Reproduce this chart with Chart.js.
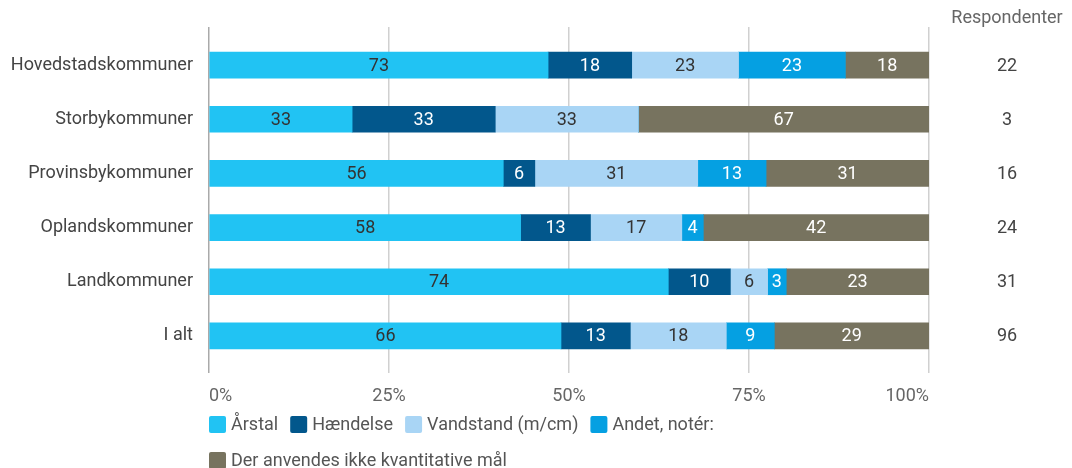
<!DOCTYPE html>
<html>
<head>
<meta charset="utf-8">
<script src="https://cdn.jsdelivr.net/npm/chart.js@4.4.1/dist/chart.umd.min.js"></script>
<style>
  html, body { margin: 0; padding: 0; background: #fff; }
  #wrap { width: 1072px; height: 468px; position: relative; }
</style>
</head>
<body>
<div id="wrap"><canvas id="chart"></canvas></div>
<script>
const categories = ['Hovedstadskommuner', 'Storbykommuner', 'Provinsbykommuner', 'Oplandskommuner', 'Landkommuner', 'I alt'];
const seriesNames = ['Årstal', 'Hændelse', 'Vandstand (m/cm)', 'Andet, notér:', 'Der anvendes ikke kvantitative mål'];
const aarstal = [73, 33, 56, 58, 74, 66];
const haendelse = [18, 33, 6, 13, 10, 13];
const vandstand = [23, 33, 31, 17, 6, 18];
const andet = [23, 0, 13, 4, 3, 9];
const ikkeKvant = [18, 67, 31, 42, 23, 29];
const respondenter = [22, 3, 16, 24, 31, 96];
const xTicks = [0, 25, 50, 75, 100];

const colors = ['#21c3f3', '#02578c', '#a9d5f5', '#05a0e2', '#77735f'];
const labelColors = ['#333', '#fff', '#333', '#fff', '#fff'];
const raw = [aarstal, haendelse, vandstand, andet, ikkeKvant];

// bars are stacked to 100% of each row's total, labels show the raw numbers
const totals = categories.map((c, i) => raw.reduce((s, arr) => s + arr[i], 0));

const datasets = raw.map((arr, k) => ({
  label: seriesNames[k],
  data: arr.map((v, i) => v / totals[i] * 100),
  rawValues: arr,
  backgroundColor: colors[k],
  borderWidth: 0,
  barThickness: 26
}));

const FONT = 'Roboto';
const FS = 18;

const gridColor = c => (c.tick && c.tick.value === 0) ? '#aaa' : '#d0d0d0';

const barLabels = {
  id: 'barLabels',
  afterDatasetsDraw(chart) {
    const ctx = chart.ctx;
    ctx.save();
    ctx.font = FS + 'px ' + FONT;
    ctx.textAlign = 'center';
    ctx.textBaseline = 'middle';
    chart.data.datasets.forEach((ds, k) => {
      const meta = chart.getDatasetMeta(k);
      meta.data.forEach((el, i) => {
        const v = ds.rawValues[i];
        if (!v) return;
        ctx.fillStyle = labelColors[k];
        ctx.fillText(String(v), (el.x + el.base) / 2, el.y + 1);
      });
    });
    ctx.restore();
  }
};

const sideColumn = {
  id: 'sideColumn',
  afterDraw(chart) {
    const ctx = chart.ctx;
    const yScale = chart.scales.y;
    const cx = 1007;
    ctx.save();
    ctx.font = FS + 'px ' + FONT;
    ctx.textAlign = 'center';
    ctx.textBaseline = 'middle';
    ctx.fillStyle = '#666';
    ctx.fillText('Respondenter', cx, 18);
    ctx.fillStyle = '#444';
    respondenter.forEach((n, i) => {
      ctx.fillText(String(n), cx, yScale.getPixelForValue(i) + 1);
    });
    ctx.restore();
  }
};

const legendBelow = {
  id: 'legendBelow',
  afterDraw(chart) {
    const ctx = chart.ctx;
    const area = chart.chartArea;
    ctx.save();
    ctx.font = FS + 'px ' + FONT;
    ctx.textBaseline = 'middle';
    let x = area.left;
    let y = 424;
    chart.data.datasets.forEach((ds, k) => {
      const w = 22 + ctx.measureText(ds.label).width;
      if (x + w > area.right && x > area.left) {
        x = area.left;
        y += 36;
      }
      ctx.fillStyle = colors[k];
      ctx.beginPath();
      ctx.roundRect(x, y - 8, 17, 17, 2);
      ctx.fill();
      ctx.fillStyle = '#555';
      ctx.textAlign = 'left';
      ctx.fillText(ds.label, x + 22, y + 1);
      x += w + 12;
    });
    ctx.restore();
  }
};

new Chart(document.getElementById('chart'), {
  type: 'bar',
  data: { labels: categories, datasets: datasets },
  plugins: [barLabels, sideColumn, legendBelow],
  options: {
    indexAxis: 'y',
    responsive: true,
    maintainAspectRatio: false,
    animation: false,
    layout: { padding: { top: 27, right: 143, left: 0, bottom: 0 } },
    plugins: {
      legend: { display: false },
      tooltip: { enabled: false }
    },
    scales: {
      x: {
        type: 'linear',
        stacked: true,
        position: 'bottom',
        min: 0,
        max: 100,
        afterBuildTicks: s => { s.ticks = xTicks.map(v => ({ value: v })); },
        afterFit: s => { s.height = 105; },
        ticks: {
          callback: v => v + '%',
          font: { family: FONT, size: FS },
          color: '#666',
          padding: 13,
          align: 'inner',
          maxRotation: 0
        },
        grid: { color: gridColor, tickColor: gridColor, tickLength: 10, lineWidth: 1.5 },
        border: { display: false }
      },
      xTop: {
        type: 'linear',
        position: 'top',
        min: 0,
        max: 100,
        afterBuildTicks: s => { s.ticks = xTicks.map(v => ({ value: v })); },
        afterFit: s => { s.height = 11; },
        ticks: { display: false },
        grid: { drawOnChartArea: false, color: gridColor, tickColor: gridColor, tickLength: 11, lineWidth: 1.5 },
        border: { display: false }
      },
      y: {
        type: 'category',
        stacked: true,
        afterFit: s => { s.width = 209; },
        ticks: {
          font: { family: FONT, size: FS },
          color: '#444',
          padding: 16
        },
        grid: { display: false, drawTicks: false },
        border: { display: false }
      }
    }
  }
});
</script>
</body>
</html>
